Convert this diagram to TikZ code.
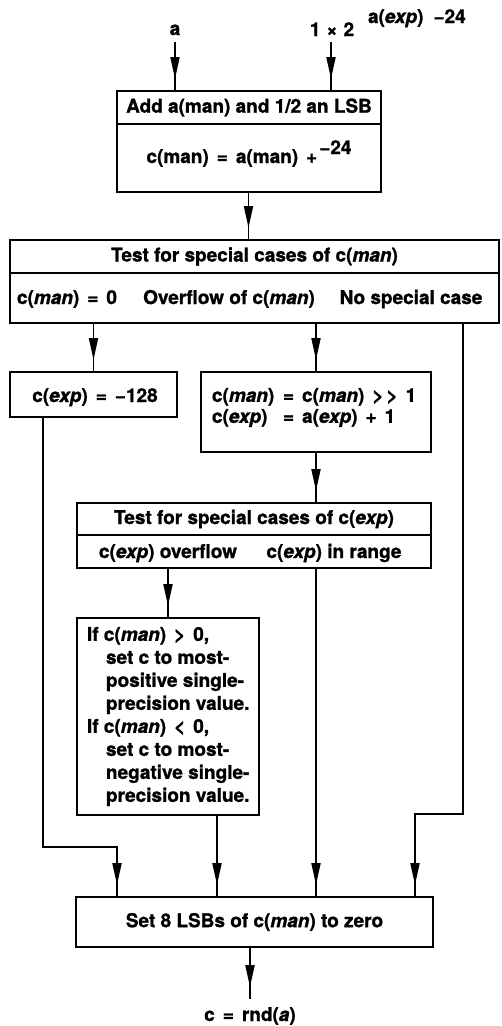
\documentclass[tikz,border=0pt]{standalone}
\usepackage{fontspec}
\setmainfont{TeX Gyre Heros}[BoldFeatures={FakeBold=1.2},BoldItalicFeatures={FakeBold=1.2}]
\usetikzlibrary{arrows.meta,decorations.markings}
\newcommand{\eqg}{\hspace{8pt}}
\begin{document}
\begin{tikzpicture}[x=1pt,y=-1pt,
  every node/.style={font=\fontsize{19}{23}\selectfont\bfseries, inner sep=0pt, outer sep=0pt},
  box/.style={draw, line width=2.2pt, anchor=north west},
  ln/.style={line width=1.9pt},
  conn/.style={ln, postaction={decorate}, decoration={markings, mark=at position -12pt with {\arrow{Triangle[length=22pt,width=9pt]}}}}]
\useasboundingbox (0,0) rectangle (502,1026);

% top labels
\node[anchor=base] (la) at (175,35) {a};
\node[anchor=base] (lb) at (332,36) {1\hspace{6pt}×\hspace{6pt}2};
\node[anchor=base west] (ls) at (368,23) {a(\textit{exp})\hspace{10pt}−24};

% box 1
\node[box, minimum width=264pt, minimum height=33pt] (b1h) at (117,91) {Add a(man) and 1/2 an LSB};
\node[box, minimum width=264pt, minimum height=68pt] (b1b) at (117,124) {};
\node[anchor=base] (t1) at (249,163) {c(man)\eqg=\eqg a(man)\eqg+\hspace{2pt}\raisebox{9pt}{−24}};

% box 2
\node[box, minimum width=489pt, minimum height=33pt] (b2h) at (10,240) {Test for special cases of c(\textit{man})};
\node[box, minimum width=489pt, minimum height=50pt] (b2b) at (10,273) {};
\node[anchor=base] (r1) at (67,304) {c(\textit{man})\eqg=\eqg 0};
\node[anchor=base] (r2) at (229,304) {Overflow of c(\textit{man})};
\node[anchor=base] (r3) at (411,304) {No special case};

% box 3
\node[box, minimum width=167pt, minimum height=45pt] (b3) at (10,372) {};
\node[anchor=base] (t3) at (95,402) {c(\textit{exp})\eqg=\eqg −128};

% box 4
\node[box, minimum width=230pt, minimum height=80pt] (b4) at (201,372) {};
\node[anchor=north west, align=left, font=\fontsize{19}{21}\selectfont\bfseries] (t4) at (212,388)
  {\makebox[71pt][l]{c(\textit{man})}=\eqg c(\textit{man})\eqg>\hspace{3pt}>\eqg 1\\
   \makebox[71pt][l]{c(\textit{exp})}=\eqg a(\textit{exp})\eqg+\eqg 1};

% box 5
\node[box, minimum width=354pt, minimum height=32pt] (b5h) at (77,503) {Test for special cases of c(\textit{exp})};
\node[box, minimum width=354pt, minimum height=33pt] (b5b) at (77,535) {};
\node[anchor=base] (r4) at (168,558) {c(\textit{exp}) overflow};
\node[anchor=base] (r5) at (334,558) {c(\textit{exp}) in range};

% box 6
\node[box, minimum width=182pt, minimum height=197pt] (b6) at (77,618) {};
\node[anchor=north west, align=left] (t6) at (87,627)
  {If c(\textit{man})\eqg>\eqg 0,\\
   \hspace*{19pt}set c to most-\\
   \hspace*{19pt}positive single-\\
   \hspace*{19pt}precision value.\\
   If c(\textit{man})\eqg<\eqg 0,\\
   \hspace*{19pt}set c to most-\\
   \hspace*{19pt}negative single-\\
   \hspace*{19pt}precision value.};

% final box
\node[box, minimum width=357pt, minimum height=50pt] (fin) at (76,897) {Set 8 LSBs of c(\textit{man}) to zero};
\node[anchor=base] (out) at (250,1021) {c\eqg=\eqg rnd(\textit{a})};

% connectors
\draw[conn] ([yshift=-7pt]la.south) -- (la.south |- b1h.north);
\draw[conn] ([xshift=-1pt,yshift=-6pt]lb.south) -- ([xshift=-1pt]lb.south |- b1h.north);
\draw[conn] ([xshift=-0.5pt]b1b.south) -- ([xshift=-0.5pt]b1b.south |- b2h.north);
\draw[conn] (b3.north |- b2b.south) -- (b3.north);
\draw[conn] (b4.north |- b2b.south) -- (b4.north);
\draw[conn] (b4.south) -- (b4.south |- b5h.north);
\draw[conn] (b6.north |- b5b.south) -- (b6.north);
\draw[conn] ([xshift=33pt]b3.south west) -- ++(0,430) -| ([xshift=41pt]fin.north west);
\draw[conn] ([xshift=-42pt]b6.south east) -- ([xshift=-42pt]b6.south east |- fin.north);
\draw[conn] (b4.south |- b5b.south) -- (b4.south |- fin.north);
\draw[conn] ([xshift=-36pt]b2b.south east) -- ++(0,491) -| ([xshift=-18pt]fin.north east);
\draw[conn] ([xshift=-4.5pt]fin.south) -- ([xshift=-4.5pt, yshift=8pt]fin.south |- out.north);
\end{tikzpicture}
\end{document}
